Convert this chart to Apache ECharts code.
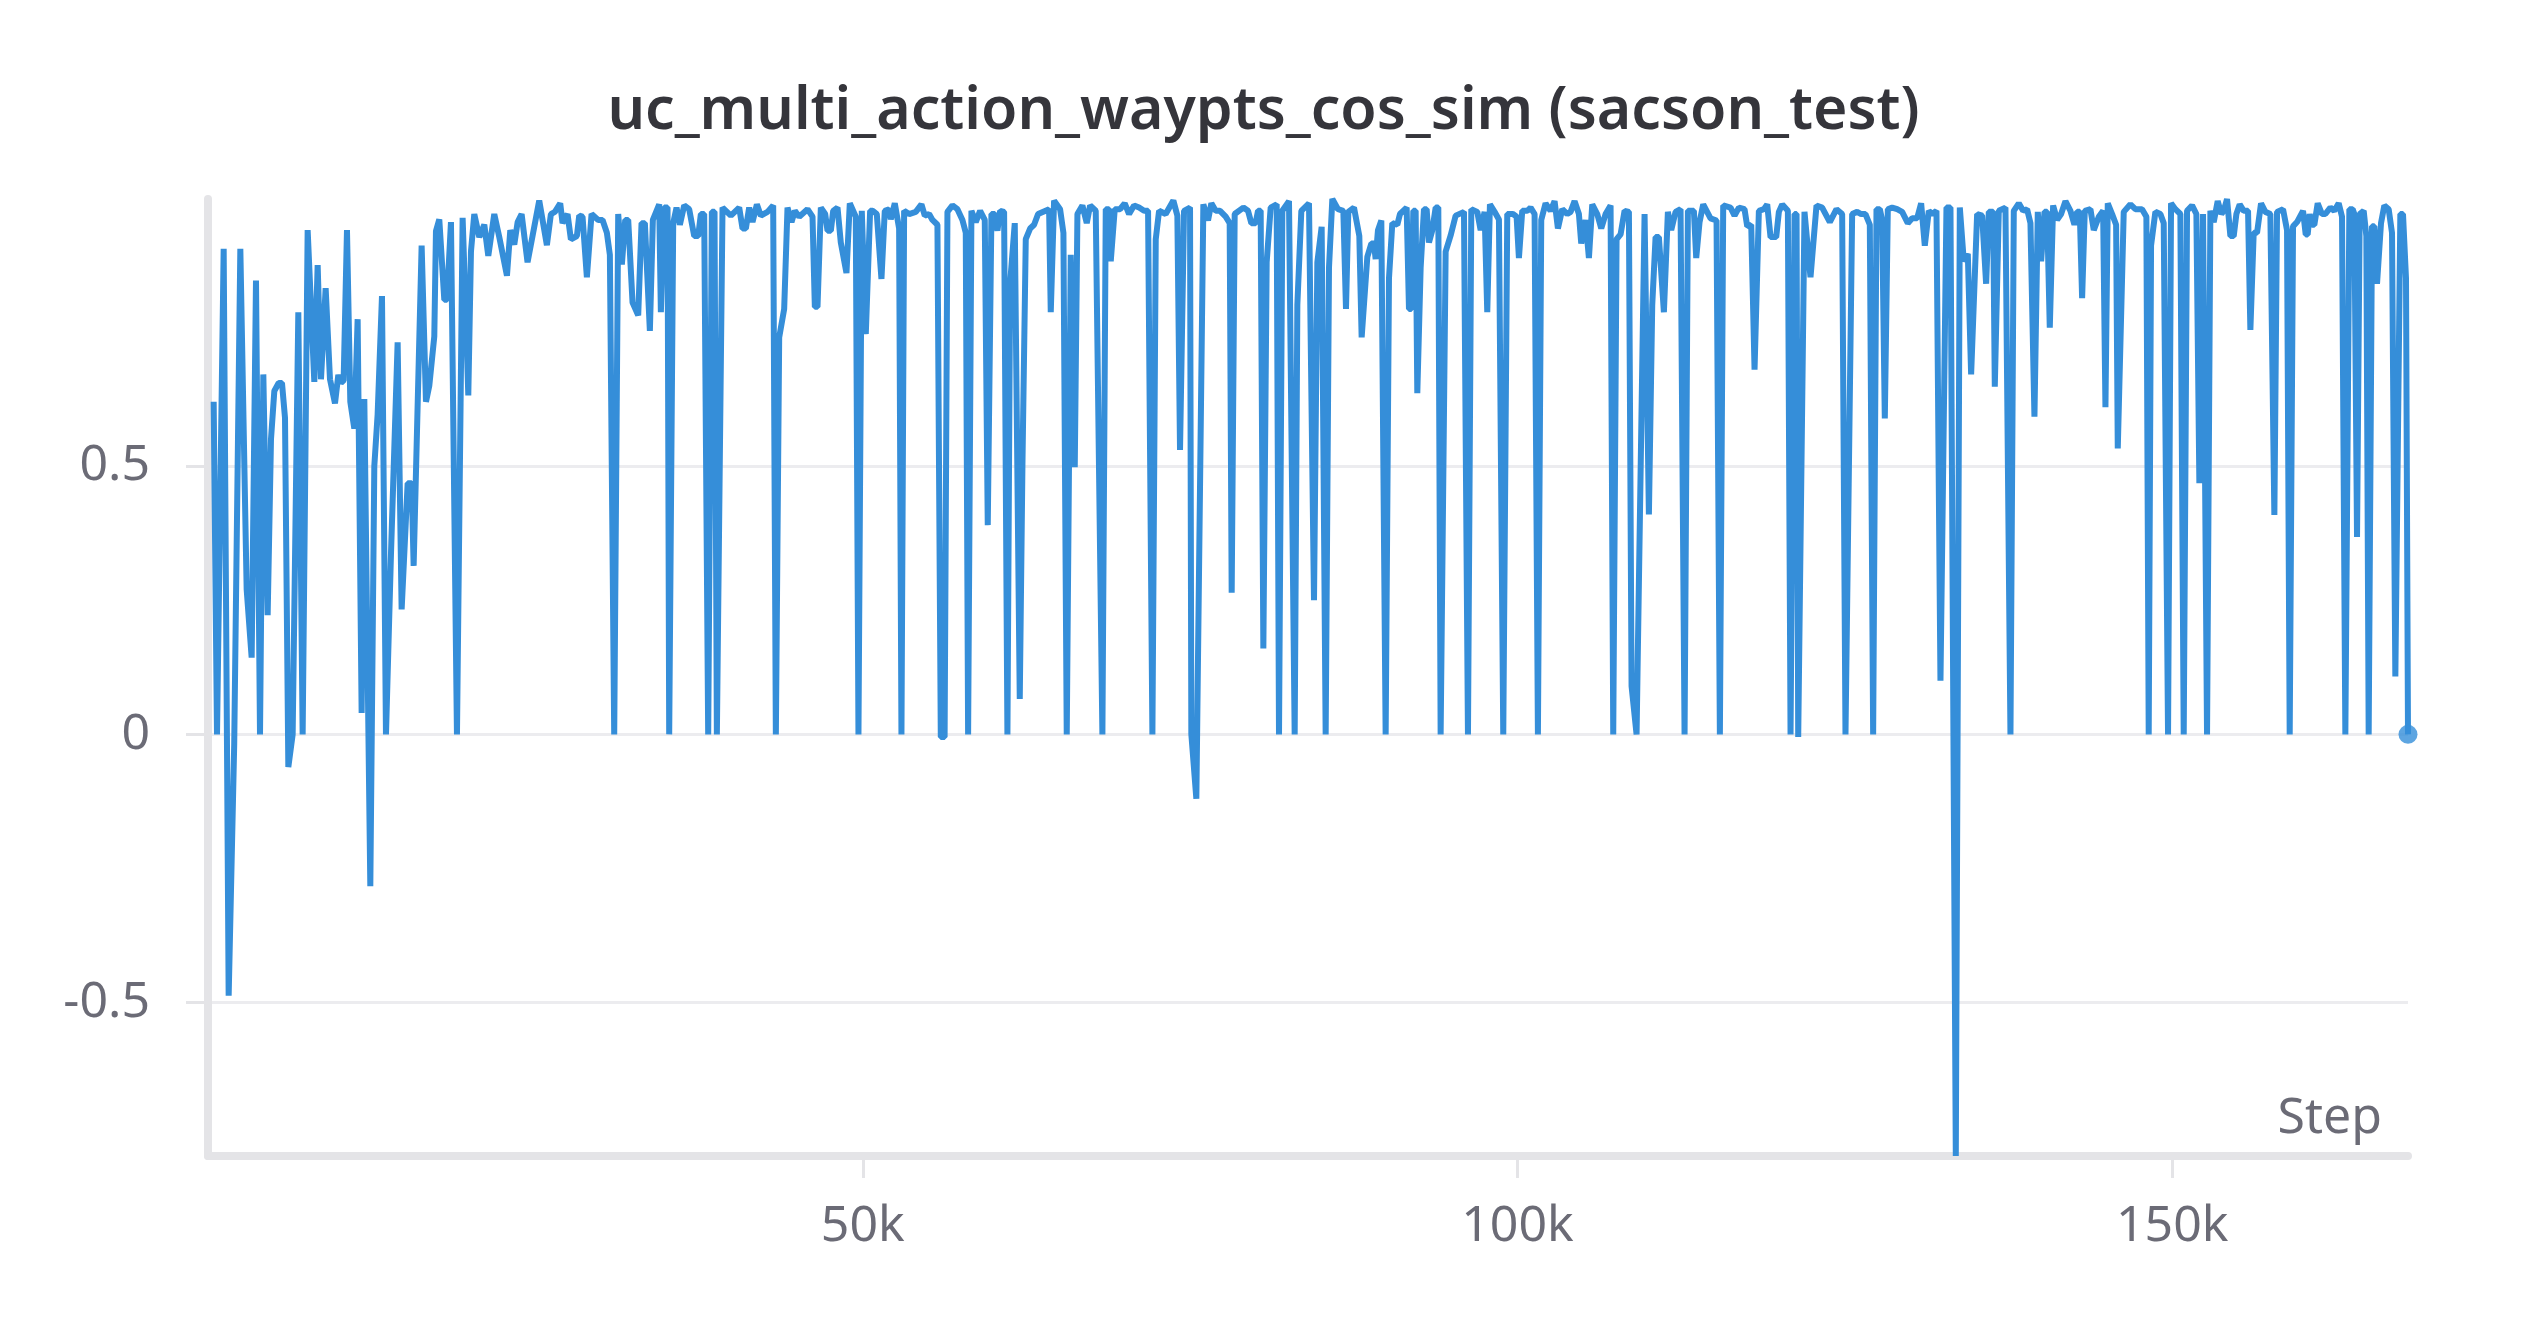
<!DOCTYPE html>
<html>
<head>
<meta charset="utf-8">
<title>uc_multi_action_waypts_cos_sim (sacson_test)</title>
<script src="https://cdn.jsdelivr.net/npm/echarts@6/dist/echarts.min.js"></script>
<style>
html, body { margin: 0; padding: 0; background: #ffffff; }
#chart { width: 2527px; height: 1327px; }
</style>
</head>
<body>
<div id="chart"></div>
<script>
const chartTitle = 'uc_multi_action_waypts_cos_sim (sacson_test)';
const xName = 'Step';
const xTicks = [50000, 100000, 150000];
const yTicks = [-0.5, 0, 0.5];

const steps = [
    433, 688, 1197, 1578, 2000, 2469, 2953, 3334, 3665, 3971,
    4225, 4556, 4810, 5065, 5396, 5650, 5880, 6134, 6465, 6897,
    7228, 7610, 8119, 8374, 8628, 8984, 9315, 9697, 9951, 10155,
    10358, 10613, 10868, 11173, 11428, 11733, 11937, 12395, 12700, 12955,
    13286, 13591, 13973, 14482, 14787, 15245, 15551, 15704, 16314, 16645,
    16900, 17281, 17408, 17663, 18045, 18248, 18554, 19012, 19444, 19699,
    19877, 20081, 20335, 20717, 21099, 21404, 21862, 22244, 22829, 23084,
    23389, 23644, 23949,

    24403, 25294, 25879, 26185, 26490, 26897, 27075, 27457, 27712, 28170,
    28348, 28602, 28933, 29290, 29798, 30129, 30460, 30689, 31020, 31325,
    31605, 31860, 32089, 32420, 32852, 33107, 33361, 33743, 33972, 34456,
    34583, 34838, 35092, 35219, 35525, 35779, 36034, 36365, 36746, 37128,
    37433, 37637, 37891, 38197, 38477, 38681, 38859, 39291, 39928, 40564,
    40818, 41073, 41327, 41582, 41913, 42218, 42727, 43160, 43364, 43618,
    43999, 44254, 44559, 44814, 45145, 45781, 46163, 46341, 46545, 46799,
    47130, 47308, 47563, 47741, 48072, 48323,

    48756, 49010, 49468, 49672, 49926, 50232, 50563, 50766, 51072, 51428,
    51682, 52013, 52140, 52446, 52777, 52955, 53159, 53540, 54049, 54482,
    54736, 55067, 55322, 55703, 55960, 56250, 56467, 56849, 57231, 57612,
    57867, 58045, 58299, 58630, 58961, 59317, 59546, 59826, 60081, 60285,
    60488, 60794, 61048, 61252, 61608, 61990, 62193, 62448, 62779, 63084,
    63390, 64230, 64357, 64611, 65069, 65324, 65578, 65884, 66189, 66393,
    66774, 67105, 67360, 67792, 68301, 68556, 68810, 68938, 69243, 69650,
    70006, 70337, 70719, 71101, 71483, 71788, 72119, 72374, 72628,

    73134, 73719, 74025, 74228, 74534, 74992, 75093, 75475, 76010, 76366,
    76620, 76951, 77282, 77715, 78020, 78173, 78402, 79064, 79420, 79674,
    80005, 80183, 80387, 80591, 80845, 81151, 81609, 81787, 82041, 82550,
    82983, 83187, 83492, 84077, 84459, 84714, 85044, 85172, 85350, 85604,
    85859, 86291, 86699, 86902, 87080, 87513, 87920, 88098, 88531, 88836,
    89040, 89167, 89345, 89600, 89931, 90185, 90440, 90822, 91025, 91534,
    91712, 91890, 92043, 92221, 92348, 92603, 92857, 93061, 93239, 93494,
    93748, 93952, 94130, 94512, 94894, 95276, 95912, 96217, 96471, 96930,
    97184,

    97486, 97690, 97894, 98250, 98581, 98912, 99217, 99650, 99930, 100108,
    100362, 100744, 100999, 101304, 101558, 101813, 102144, 102526, 102831, 103086,
    103416, 103798, 104053, 104358, 104689, 104867, 105198, 105453, 105707, 106089,
    106394, 106725, 107107, 107310, 107565, 107870, 108176, 108507, 108710, 109092,
    109703, 110034, 110288, 110543, 110797, 111179, 111484, 111739, 112070,
    112451, 112757, 113011, 113469, 113647, 113902, 114181, 114741, 115199, 115454,
    115708, 116268, 116574, 116905, 117337, 117541, 117847, 118101, 118432, 118814,
    119068, 119323, 119755, 119959, 120214, 120646, 120850, 121156, 121309, 121436,

    121915, 122374, 122832, 123264, 123850, 124359, 124791, 125046, 125555, 125937,
    126242, 126573, 126904, 127158, 127413, 127667, 127845, 128049, 128278, 128609,
    128991, 129372, 129805, 130136, 130518, 130823, 131103, 131408, 131663, 131994,
    132299, 132757, 133063, 133470, 133776, 134081, 134387, 134640, 135099, 135481,
    135786, 135990, 136321, 136448, 136753, 137262, 137644, 137898, 138280, 138611,
    138916, 139171, 139476, 139731, 139985, 140240, 140443, 140647, 140902, 141207,
    141512, 141843, 142225, 142530, 142734, 142937, 143116, 143319, 143752, 144006,
    144388, 144719, 144897, 145075, 145406, 145712, 145839,

    146294, 146803, 147184, 147693, 148024, 148202, 148380, 148711, 149093, 149348,
    149678, 149907, 150238, 150620, 150875, 151129, 151511, 151842, 152071, 152351,
    152478, 152656, 152911, 153165, 153470, 153750, 153929, 154183, 154438, 154692,
    154896, 155150, 155456, 155787, 155965, 156219, 156474, 156779, 157110, 157492,
    157797, 158001, 158459, 158764, 158968, 159222, 159528, 159986, 160189, 160342,
    160495, 160673, 160851, 161106, 161436, 161691, 162073, 162378, 162709, 162963,
    163218, 163523, 163778, 163905, 164109, 164312, 164618, 164821, 164999, 165254,
    165432, 165636, 165941, 166195, 166526, 166781, 167035, 167417, 167620, 167849,
    168002
];

const cosSim = [
    0.62, 0.0, 0.905, -0.487, -0.02, 0.905, 0.27, 0.143, 0.846, 0.0,
    0.671, 0.222, 0.55, 0.64, 0.655, 0.655, 0.59, -0.061, 0.0, 0.787,
    0.0, 0.94, 0.657, 0.875, 0.662, 0.832, 0.662, 0.617, 0.67, 0.655,
    0.66, 0.94, 0.62, 0.57, 0.774, 0.04, 0.625, -0.283, 0.5, 0.597,
    0.817, 0.0, 0.336, 0.731, 0.233, 0.468, 0.468, 0.314, 0.911, 0.62,
    0.65, 0.742, 0.938, 0.96, 0.81, 0.81, 0.955, 0.0, 0.963, 0.777,
    0.632, 0.9, 0.97, 0.927, 0.95, 0.892, 0.97, 0.927, 0.855, 0.94,
    0.913, 0.955, 0.97,

    0.88, 0.995, 0.912, 0.97, 0.974, 0.99, 0.953, 0.97, 0.923, 0.929,
    0.967, 0.965, 0.852, 0.97, 0.959, 0.959, 0.935, 0.894, 0.0, 0.97,
    0.876, 0.959, 0.959, 0.805, 0.781, 0.953, 0.953, 0.752, 0.959, 0.988,
    0.787, 0.982, 0.982, 0.0, 0.953, 0.982, 0.95, 0.986, 0.979, 0.929,
    0.929, 0.97, 0.97, 0.0, 0.974, 0.974, 0.0, 0.982, 0.967, 0.982,
    0.943, 0.943, 0.982, 0.955, 0.988, 0.967, 0.974, 0.986, 0.0, 0.74,
    0.793, 0.982, 0.955, 0.976, 0.965, 0.979, 0.965, 0.797, 0.797, 0.982,
    0.97, 0.939, 0.939, 0.976, 0.982, 0.917,

    0.86, 0.99, 0.965, 0.0, 0.976, 0.746, 0.976, 0.976, 0.97, 0.849,
    0.976, 0.979, 0.96, 0.99, 0.943, 0.0, 0.976, 0.97, 0.974, 0.988,
    0.967, 0.97, 0.959, 0.95, -0.005, -0.005, 0.974, 0.986, 0.979, 0.959,
    0.935, 0.0, 0.976, 0.955, 0.976, 0.959, 0.39, 0.97, 0.97, 0.939,
    0.976, 0.974, 0.0, 0.84, 0.953, 0.066, 0.5, 0.923, 0.943, 0.95,
    0.97, 0.979, 0.787, 0.995, 0.979, 0.935, 0.0, 0.894, 0.498, 0.97,
    0.986, 0.953, 0.986, 0.976, 0.0, 0.979, 0.979, 0.882, 0.979, 0.979,
    0.99, 0.97, 0.986, 0.982, 0.976, 0.976, 0.0, 0.923, 0.976,

    0.97, 0.995, 0.967, 0.53, 0.976, 0.982, 0.0, -0.12, 0.988, 0.958,
    0.99, 0.976, 0.976, 0.965, 0.953, 0.264, 0.97, 0.982, 0.976, 0.953,
    0.953, 0.976, 0.976, 0.16, 0.88, 0.982, 0.988, 0.0, 0.976, 0.994,
    0.0, 0.8, 0.976, 0.99, 0.25, 0.88, 0.946, 0.946, 0.0, 0.87,
    0.998, 0.979, 0.976, 0.793, 0.974, 0.982, 0.929, 0.74, 0.89, 0.915,
    0.915, 0.886, 0.94, 0.958, 0.0, 0.85, 0.953, 0.95, 0.97, 0.982,
    0.793, 0.793, 0.976, 0.976, 0.636, 0.87, 0.979, 0.979, 0.917, 0.94,
    0.982, 0.982, 0.0, 0.9, 0.93, 0.967, 0.974, 0.0, 0.979, 0.974,
    0.94,

    0.974, 0.787, 0.988, 0.974, 0.96, 0.0, 0.97, 0.97, 0.965, 0.888,
    0.976, 0.976, 0.982, 0.97, 0.0, 0.959, 0.99, 0.976, 0.994, 0.943,
    0.979, 0.97, 0.974, 0.994, 0.97, 0.915, 0.959, 0.888, 0.988, 0.97,
    0.943, 0.97, 0.986, 0.0, 0.923, 0.932, 0.976, 0.974, 0.09, 0.0,
    0.97, 0.41, 0.8, 0.927, 0.927, 0.787, 0.974, 0.94, 0.974,
    0.979, 0.0, 0.976, 0.976, 0.888, 0.955, 0.988, 0.962, 0.958, 0.0,
    0.986, 0.982, 0.967, 0.982, 0.979, 0.947, 0.95, 0.68, 0.976, 0.979,
    0.988, 0.927, 0.927, 0.974, 0.988, 0.976, 0.0, 0.97, 0.97, -0.005,

    0.974, 0.852, 0.986, 0.982, 0.955, 0.979, 0.97, 0.0, 0.97, 0.974,
    0.97, 0.97, 0.95, 0.0, 0.979, 0.979, 0.959, 0.589, 0.979, 0.982,
    0.979, 0.974, 0.953, 0.962, 0.962, 0.99, 0.911, 0.976, 0.97, 0.976,
    0.1, 0.982, 0.982, -0.786, 0.982, 0.882, 0.896, 0.671, 0.97, 0.967,
    0.84, 0.974, 0.974, 0.648, 0.976, 0.982, 0.0, 0.976, 0.99, 0.976,
    0.979, 0.953, 0.592, 0.974, 0.882, 0.974, 0.974, 0.758, 0.986, 0.959,
    0.97, 0.994, 0.976, 0.95, 0.974, 0.974, 0.813, 0.976, 0.979, 0.94,
    0.965, 0.976, 0.61, 0.99, 0.97, 0.95, 0.533,

    0.974, 0.988, 0.979, 0.979, 0.965, 0.0, 0.911, 0.974, 0.97, 0.953,
    0.0, 0.99, 0.979, 0.97, 0.0, 0.976, 0.986, 0.97, 0.468, 0.97,
    0.97, 0.0, 0.976, 0.955, 0.994, 0.97, 0.976, 0.998, 0.929, 0.929,
    0.97, 0.988, 0.976, 0.976, 0.754, 0.935, 0.935, 0.99, 0.974, 0.97,
    0.409, 0.974, 0.979, 0.94, 0.0, 0.947, 0.955, 0.976, 0.932, 0.932,
    0.97, 0.95, 0.95, 0.99, 0.97, 0.97, 0.982, 0.976, 0.99, 0.965,
    0.0, 0.979, 0.979, 0.97, 0.368, 0.97, 0.976, 0.929, 0.0, 0.947,
    0.947, 0.84, 0.953, 0.986, 0.979, 0.935, 0.108, 0.97, 0.97, 0.85,
    0.0
];

const FONT = '"Noto Sans", "Open Sans", sans-serif';
const LINE_COLOR = '#358ed9';
const AXIS_COLOR = '#e4e4e7';
const GRID_COLOR = '#ececef';
const LABEL_COLOR = '#6b6b76';

if (steps.length !== cosSim.length) {
    console.error('length mismatch', steps.length, cosSim.length);
}

let seriesData = [];
steps.forEach(function (step, i) {
    seriesData.push([step, cosSim[i]]);
});
let lastPoint = seriesData[seriesData.length - 1];

function dataMin(v) { return v.min; }
function dataMax(v) { return v.max; }

let chart = echarts.init(document.getElementById('chart'));
chart.setOption({
    animation: false,
    backgroundColor: '#ffffff',
    title: {
        text: chartTitle,
        left: 'center',
        top: 78,
        textStyle: { fontFamily: FONT, fontSize: 59, fontWeight: 600, color: '#35353b' }
    },
    grid: { left: 208, right: 119, top: 199, bottom: 171, containLabel: false },
    xAxis: [{
        type: 'value',
        min: 0,
        max: dataMax,
        position: 'bottom',
        name: xName,
        nameLocation: 'end',
        nameGap: -26,
        nameTextStyle: {
            fontFamily: FONT, fontSize: 50, color: LABEL_COLOR,
            align: 'right', verticalAlign: 'bottom', padding: [0, 0, 12, 0]
        },
        axisLine: { show: true, onZero: false, lineStyle: { color: AXIS_COLOR, width: 8 } },
        axisTick: { show: true, customValues: xTicks, length: 22, lineStyle: { color: AXIS_COLOR, width: 3 } },
        axisLabel: {
            customValues: xTicks,
            margin: 46,
            fontFamily: FONT, fontSize: 50, color: LABEL_COLOR,
            formatter: function (v) { return v / 1000 + 'k'; }
        },
        splitLine: { show: false }
    }, {
        type: 'value',
        min: 0,
        max: dataMax,
        position: 'bottom',
        axisLine: { show: false, onZero: false },
        axisTick: { show: true, inside: true, customValues: xTicks, length: 22, lineStyle: { color: AXIS_COLOR, width: 3 } },
        axisLabel: { show: false },
        splitLine: { show: false }
    }],
    yAxis: [{
        type: 'value',
        min: dataMin,
        max: dataMax,
        position: 'left',
        axisLine: { show: true, onZero: false, lineStyle: { color: AXIS_COLOR, width: 8 } },
        axisTick: { show: true, customValues: yTicks, length: 22, lineStyle: { color: AXIS_COLOR, width: 3 } },
        axisLabel: { customValues: yTicks, margin: 58, fontFamily: FONT, fontSize: 50, color: LABEL_COLOR },
        splitLine: { show: true, lineStyle: { color: GRID_COLOR, width: 3 } }
    }, {
        type: 'value',
        min: dataMin,
        max: dataMax,
        position: 'left',
        axisLine: { show: false, onZero: false },
        axisTick: { show: true, inside: true, customValues: yTicks, length: 22, lineStyle: { color: AXIS_COLOR, width: 3 } },
        axisLabel: { show: false },
        splitLine: { show: false }
    }],
    series: [{
        type: 'line',
        xAxisIndex: 0,
        yAxisIndex: 0,
        data: seriesData,
        showSymbol: false,
        lineStyle: { color: LINE_COLOR, width: 6 },
        z: 3
    }, {
        type: 'scatter',
        xAxisIndex: 0,
        yAxisIndex: 0,
        data: [lastPoint],
        symbolSize: 19,
        itemStyle: { color: LINE_COLOR },
        z: 4
    }]
});
</script>
</body>
</html>
